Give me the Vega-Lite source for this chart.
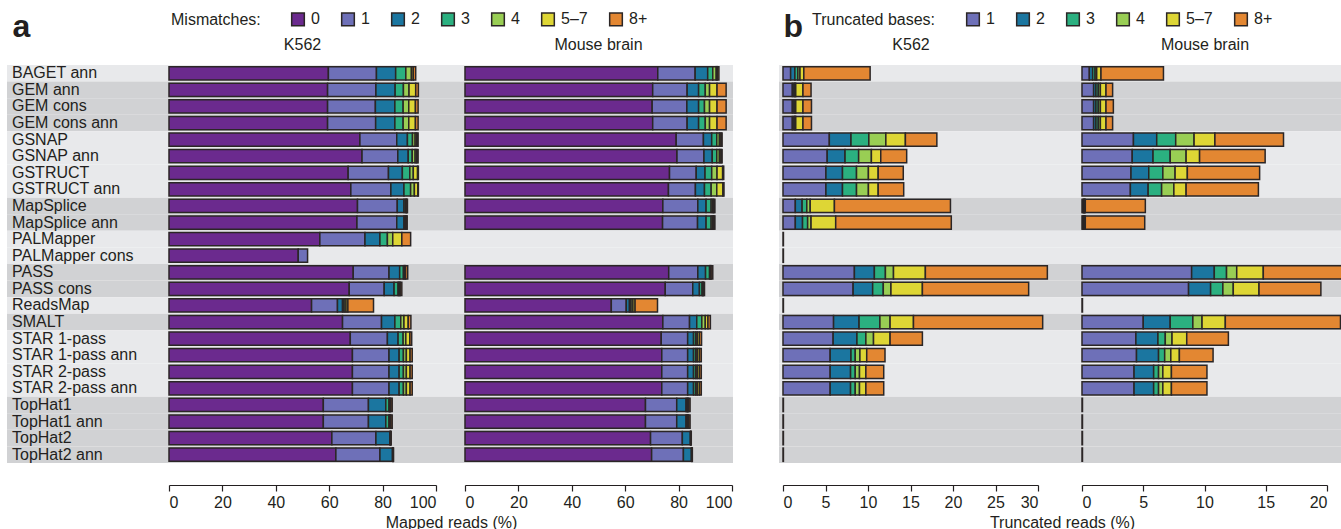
{
"$schema": "https://vega.github.io/schema/vega-lite/v6.json",
"padding": {"left": 7, "top": 10, "right": 0, "bottom": 0},
"background": "white",
"config": {
  "view": {"stroke": null},
  "font": "Liberation Sans",
  "title": {"fontSize": 16, "fontWeight": "normal", "color": "#231f20", "offset": 12},
  "axis": {"labelFontSize": 16, "labelColor": "#231f20", "titleFontSize": 16, "titleFontWeight": "normal", "titleColor": "#231f20", "domainColor": "#231f20", "tickColor": "#231f20", "grid": false, "tickSize": 6, "domainWidth": 1.2, "tickWidth": 1.2, "offset": 22, "labelPadding": 3, "titlePadding": 4},
  "legend": {"orient": "none", "direction": "horizontal", "titleOrient": "left", "titleFontSize": 16, "titleFontWeight": "normal", "titleColor": "#231f20", "labelFontSize": 16, "labelColor": "#231f20", "symbolType": "square", "symbolSize": 160, "symbolStrokeWidth": 1.5, "symbolStrokeColor": "#2b2626", "titlePadding": 29, "columnPadding": 18, "labelOffset": 5}
},
"datasets": {
  "bands": [
    {"m":"BAGET ann","g":"L"},{"m":"GEM ann","g":"D"},{"m":"GEM cons","g":"D"},{"m":"GEM cons ann","g":"D"},
    {"m":"GSNAP","g":"L"},{"m":"GSNAP ann","g":"L"},{"m":"GSTRUCT","g":"L"},{"m":"GSTRUCT ann","g":"L"},
    {"m":"MapSplice","g":"D"},{"m":"MapSplice ann","g":"D"},{"m":"PALMapper","g":"L"},{"m":"PALMapper cons","g":"L"},
    {"m":"PASS","g":"D"},{"m":"PASS cons","g":"D"},{"m":"ReadsMap","g":"L"},{"m":"SMALT","g":"D"},
    {"m":"STAR 1-pass","g":"L"},{"m":"STAR 1-pass ann","g":"L"},{"m":"STAR 2-pass","g":"L"},{"m":"STAR 2-pass ann","g":"L"},
    {"m":"TopHat1","g":"D"},{"m":"TopHat1 ann","g":"D"},{"m":"TopHat2","g":"D"},{"m":"TopHat2 ann","g":"D"}
  ],
  "a": [
    {"m":"BAGET ann","p":"K","0":59.7,"1":18.0,"2":7.2,"3":3.8,"4":2.1,"5–7":0.7,"8+":0.9},
    {"m":"GEM ann","p":"K","0":59.4,"1":18.1,"2":7.2,"3":3.1,"4":2.1,"5–7":2.5,"8+":1.0},
    {"m":"GEM cons","p":"K","0":59.4,"1":17.9,"2":7.3,"3":3.1,"4":2.1,"5–7":2.5,"8+":1.0},
    {"m":"GEM cons ann","p":"K","0":59.4,"1":18.0,"2":7.2,"3":3.1,"4":2.1,"5–7":2.5,"8+":1.0},
    {"m":"GSNAP","p":"K","0":71.5,"1":13.8,"2":4.0,"3":1.9,"4":1.0,"5–7":0.6,"8+":0.5},
    {"m":"GSNAP ann","p":"K","0":72.3,"1":13.4,"2":3.9,"3":1.5,"4":1.1,"5–7":0.6,"8+":0.5},
    {"m":"GSTRUCT","p":"K","0":67.1,"1":15.1,"2":5.2,"3":2.8,"4":1.3,"5–7":1.6,"8+":0.3},
    {"m":"GSTRUCT ann","p":"K","0":68.1,"1":15.0,"2":4.9,"3":2.5,"4":1.4,"5–7":1.3,"8+":0.2},
    {"m":"MapSplice","p":"K","0":70.6,"1":14.9,"2":2.5,"3":0.6,"4":0.3,"5–7":0.2,"8+":0.2},
    {"m":"MapSplice ann","p":"K","0":70.4,"1":14.9,"2":2.7,"3":0.5,"4":0.3,"5–7":0.2,"8+":0.2},
    {"m":"PALMapper","p":"K","0":56.5,"1":16.9,"2":5.6,"3":2.8,"4":2.0,"5–7":3.4,"8+":3.3},
    {"m":"PALMapper cons","p":"K","0":48.4,"1":3.5},
    {"m":"PASS","p":"K","0":69.0,"1":13.4,"2":4.0,"3":1.4,"4":0.5,"5–7":0.3,"8+":0.8},
    {"m":"PASS cons","p":"K","0":67.5,"1":13.1,"2":3.7,"3":1.5,"4":0.4,"5–7":0.4,"8+":0.6},
    {"m":"ReadsMap","p":"K","0":53.4,"1":9.7,"2":1.9,"3":0.6,"4":0.7,"5–7":0.7,"8+":9.6},
    {"m":"SMALT","p":"K","0":65.0,"1":14.6,"2":5.0,"3":2.2,"4":1.2,"5–7":1.6,"8+":1.0},
    {"m":"STAR 1-pass","p":"K","0":67.9,"1":13.9,"2":4.0,"3":1.9,"4":1.0,"5–7":1.5,"8+":0.7},
    {"m":"STAR 1-pass ann","p":"K","0":68.7,"1":13.7,"2":3.8,"3":1.6,"4":1.1,"5–7":1.4,"8+":0.8},
    {"m":"STAR 2-pass","p":"K","0":68.7,"1":13.7,"2":3.8,"3":1.6,"4":1.1,"5–7":1.4,"8+":0.8},
    {"m":"STAR 2-pass ann","p":"K","0":68.7,"1":13.7,"2":3.8,"3":1.6,"4":1.1,"5–7":1.4,"8+":0.8},
    {"m":"TopHat1","p":"K","0":57.8,"1":16.9,"2":6.5,"3":1.2,"4":0.3,"5–7":0.3,"8+":0.6},
    {"m":"TopHat1 ann","p":"K","0":57.8,"1":16.9,"2":6.5,"3":1.2,"4":0.3,"5–7":0.3,"8+":0.6},
    {"m":"TopHat2","p":"K","0":61.0,"1":16.5,"2":5.2,"3":0.2,"4":0.1,"5–7":0.1,"8+":0.1},
    {"m":"TopHat2 ann","p":"K","0":62.5,"1":16.5,"2":4.7,"3":0.1,"4":0.1,"5–7":0.1,"8+":0.1},
    {"m":"BAGET ann","p":"M","0":72.2,"1":14.0,"2":4.7,"3":1.9,"4":1.3,"5–7":0.4,"8+":0.6},
    {"m":"GEM ann","p":"M","0":70.3,"1":12.9,"2":4.3,"3":2.5,"4":1.6,"5–7":2.8,"8+":3.4},
    {"m":"GEM cons","p":"M","0":70.1,"1":13.0,"2":4.4,"3":2.2,"4":1.9,"5–7":2.8,"8+":3.4},
    {"m":"GEM cons ann","p":"M","0":70.3,"1":12.9,"2":4.3,"3":2.5,"4":1.6,"5–7":2.8,"8+":3.4},
    {"m":"GSNAP","p":"M","0":79.1,"1":10.2,"2":3.1,"3":1.9,"4":1.0,"5–7":0.6,"8+":0.4},
    {"m":"GSNAP ann","p":"M","0":79.4,"1":10.1,"2":3.1,"3":1.7,"4":1.0,"5–7":0.6,"8+":0.4},
    {"m":"GSTRUCT","p":"M","0":76.6,"1":10.0,"2":3.3,"3":2.5,"4":2.0,"5–7":2.1,"8+":0.4},
    {"m":"GSTRUCT ann","p":"M","0":76.2,"1":10.1,"2":3.4,"3":2.5,"4":2.1,"5–7":2.3,"8+":0.4},
    {"m":"MapSplice","p":"M","0":74.1,"1":13.1,"2":3.1,"3":1.9,"4":0.6,"5–7":0.4,"8+":0.4},
    {"m":"MapSplice ann","p":"M","0":74.0,"1":13.1,"2":3.2,"3":1.9,"4":0.6,"5–7":0.4,"8+":0.4},
    {"m":"PASS","p":"M","0":76.3,"1":10.9,"2":2.9,"3":1.5,"4":0.3,"5–7":0.3,"8+":0.6},
    {"m":"PASS cons","p":"M","0":75.0,"1":10.3,"2":2.5,"3":1.0,"4":0.3,"5–7":0.2,"8+":0.4},
    {"m":"ReadsMap","p":"M","0":54.8,"1":5.6,"2":1.2,"3":0.6,"4":0.7,"5–7":0.8,"8+":8.4},
    {"m":"SMALT","p":"M","0":74.1,"1":10.0,"2":2.7,"3":1.9,"4":1.3,"5–7":1.0,"8+":0.9},
    {"m":"STAR 1-pass","p":"M","0":73.5,"1":9.9,"2":2.2,"3":0.8,"4":0.6,"5–7":0.8,"8+":0.8},
    {"m":"STAR 1-pass ann","p":"M","0":73.7,"1":9.7,"2":2.2,"3":0.8,"4":0.6,"5–7":0.8,"8+":0.7},
    {"m":"STAR 2-pass","p":"M","0":73.7,"1":9.7,"2":2.2,"3":0.8,"4":0.6,"5–7":0.8,"8+":0.7},
    {"m":"STAR 2-pass ann","p":"M","0":73.7,"1":9.7,"2":2.2,"3":0.8,"4":0.6,"5–7":0.8,"8+":0.7},
    {"m":"TopHat1","p":"M","0":67.6,"1":11.7,"2":3.5,"3":0.4,"4":0.2,"5–7":0.3,"8+":0.6},
    {"m":"TopHat1 ann","p":"M","0":67.6,"1":11.7,"2":3.5,"3":0.4,"4":0.2,"5–7":0.3,"8+":0.6},
    {"m":"TopHat2","p":"M","0":69.5,"1":11.9,"2":3.0,"3":0.1,"4":0.1,"5–7":0.05,"8+":0.1},
    {"m":"TopHat2 ann","p":"M","0":69.9,"1":11.9,"2":3.0,"3":0.1,"4":0.1,"5–7":0.05,"8+":0.1}
  ],
  "b": [
    {"m":"BAGET ann","p":"K","1":0.9,"2":0.5,"3":0.35,"4":0.25,"5–7":0.45,"8+":7.8},
    {"m":"GEM ann","p":"K","1":1.1,"2":0.2,"3":0.1,"4":0.1,"5–7":0.85,"8+":0.95},
    {"m":"GEM cons","p":"K","1":1.1,"2":0.2,"3":0.1,"4":0.1,"5–7":0.85,"8+":1.0},
    {"m":"GEM cons ann","p":"K","1":1.1,"2":0.2,"3":0.1,"4":0.1,"5–7":0.85,"8+":1.0},
    {"m":"GSNAP","p":"K","1":5.45,"2":2.55,"3":2.1,"4":2.0,"5–7":2.3,"8+":3.7},
    {"m":"GSNAP ann","p":"K","1":5.2,"2":2.1,"3":1.6,"4":1.5,"5–7":1.1,"8+":3.05},
    {"m":"GSTRUCT","p":"K","1":5.05,"2":1.95,"3":1.65,"4":1.4,"5–7":1.15,"8+":2.95},
    {"m":"GSTRUCT ann","p":"K","1":5.05,"2":1.95,"3":1.65,"4":1.4,"5–7":1.15,"8+":3.0},
    {"m":"MapSplice","p":"K","1":1.45,"2":0.8,"3":0.55,"4":0.4,"5–7":2.85,"8+":13.65},
    {"m":"MapSplice ann","p":"K","1":1.45,"2":0.85,"3":0.6,"4":0.4,"5–7":2.9,"8+":13.6},
    {"m":"PALMapper","p":"K","1":0.05},
    {"m":"PALMapper cons","p":"K","1":0.05},
    {"m":"PASS","p":"K","1":8.4,"2":2.35,"3":1.3,"4":0.95,"5–7":3.75,"8+":14.35},
    {"m":"PASS cons","p":"K","1":8.25,"2":2.3,"3":1.25,"4":0.9,"5–7":3.7,"8+":12.5},
    {"m":"ReadsMap","p":"K","1":0.05},
    {"m":"SMALT","p":"K","1":5.95,"2":3.0,"3":2.45,"4":1.2,"5–7":2.75,"8+":15.2},
    {"m":"STAR 1-pass","p":"K","1":5.9,"2":2.8,"3":1.05,"4":0.9,"5–7":1.95,"8+":3.8},
    {"m":"STAR 1-pass ann","p":"K","1":5.55,"2":2.45,"3":0.5,"4":0.55,"5–7":0.8,"8+":2.15},
    {"m":"STAR 2-pass","p":"K","1":5.55,"2":2.4,"3":0.55,"4":0.5,"5–7":0.75,"8+":2.1},
    {"m":"STAR 2-pass ann","p":"K","1":5.55,"2":2.4,"3":0.55,"4":0.5,"5–7":0.75,"8+":2.1},
    {"m":"TopHat1","p":"K","1":0.05},
    {"m":"TopHat1 ann","p":"K","1":0.05},
    {"m":"TopHat2","p":"K","1":0.05},
    {"m":"TopHat2 ann","p":"K","1":0.05},
    {"m":"BAGET ann","p":"M","1":0.6,"2":0.27,"3":0.2,"4":0.13,"5–7":0.35,"8+":5.1},
    {"m":"GEM ann","p":"M","1":0.95,"2":0.19,"3":0.19,"4":0.17,"5–7":0.46,"8+":0.54},
    {"m":"GEM cons","p":"M","1":0.95,"2":0.19,"3":0.19,"4":0.17,"5–7":0.46,"8+":0.6},
    {"m":"GEM cons ann","p":"M","1":0.95,"2":0.19,"3":0.19,"4":0.17,"5–7":0.46,"8+":0.54},
    {"m":"GSNAP","p":"M","1":4.2,"2":1.9,"3":1.55,"4":1.5,"5–7":1.7,"8+":5.6},
    {"m":"GSNAP ann","p":"M","1":4.1,"2":1.7,"3":1.4,"4":1.3,"5–7":1.1,"8+":5.35},
    {"m":"GSTRUCT","p":"M","1":4.0,"2":1.45,"3":1.15,"4":1.0,"5–7":1.0,"8+":5.9},
    {"m":"GSTRUCT ann","p":"M","1":3.95,"2":1.45,"3":1.1,"4":1.0,"5–7":1.0,"8+":5.9},
    {"m":"MapSplice","p":"M","1":0.08,"2":0.06,"3":0.04,"4":0.04,"5–7":0.05,"8+":4.9},
    {"m":"MapSplice ann","p":"M","1":0.08,"2":0.06,"3":0.04,"4":0.04,"5–7":0.05,"8+":4.85},
    {"m":"PASS","p":"M","1":8.95,"2":1.85,"3":1.0,"4":0.83,"5–7":2.17,"8+":7.2},
    {"m":"PASS cons","p":"M","1":8.7,"2":1.8,"3":1.0,"4":0.85,"5–7":2.1,"8+":5.05},
    {"m":"ReadsMap","p":"M","1":0.04},
    {"m":"SMALT","p":"M","1":5.0,"2":2.2,"3":1.85,"4":0.75,"5–7":1.9,"8+":9.4},
    {"m":"STAR 1-pass","p":"M","1":4.4,"2":1.8,"3":0.6,"4":0.55,"5–7":1.2,"8+":3.4},
    {"m":"STAR 1-pass ann","p":"M","1":4.45,"2":1.8,"3":0.5,"4":0.5,"5–7":0.7,"8+":2.75},
    {"m":"STAR 2-pass","p":"M","1":4.25,"2":1.6,"3":0.4,"4":0.35,"5–7":0.7,"8+":2.9},
    {"m":"STAR 2-pass ann","p":"M","1":4.25,"2":1.6,"3":0.4,"4":0.35,"5–7":0.7,"8+":2.9},
    {"m":"TopHat1","p":"M","1":0.04},
    {"m":"TopHat1 ann","p":"M","1":0.04},
    {"m":"TopHat2","p":"M","1":0.04},
    {"m":"TopHat2 ann","p":"M","1":0.04}
  ]
},
"hconcat": [
  {
    "spacing": 0,
    "bounds": "flush",
    "hconcat": [
      {
        "width": 162, "height": 398,
        "layer": [
          {"data": {"name": "bands"}, "mark": {"type": "rect"},
           "encoding": {"y": {"field": "m", "type": "nominal", "scale": {"domain": ["BAGET ann","GEM ann","GEM cons","GEM cons ann","GSNAP","GSNAP ann","GSTRUCT","GSTRUCT ann","MapSplice","MapSplice ann","PALMapper","PALMapper cons","PASS","PASS cons","ReadsMap","SMALT","STAR 1-pass","STAR 1-pass ann","STAR 2-pass","STAR 2-pass ann","TopHat1","TopHat1 ann","TopHat2","TopHat2 ann"], "paddingInner": 0, "paddingOuter": 0}, "axis": null},
                        "fill": {"field": "g", "type": "nominal", "scale": {"domain": ["L","D"], "range": ["#e8e9eb","#d1d2d4"]}, "legend": null}}},
          {"data": {"name": "bands"}, "mark": {"type": "text", "align": "left", "baseline": "middle", "dx": 5, "fontSize": 16, "color": "#231f20"},
           "encoding": {"y": {"field": "m", "type": "nominal", "scale": {"domain": ["BAGET ann","GEM ann","GEM cons","GEM cons ann","GSNAP","GSNAP ann","GSTRUCT","GSTRUCT ann","MapSplice","MapSplice ann","PALMapper","PALMapper cons","PASS","PASS cons","ReadsMap","SMALT","STAR 1-pass","STAR 1-pass ann","STAR 2-pass","STAR 2-pass ann","TopHat1","TopHat1 ann","TopHat2","TopHat2 ann"], "paddingInner": 0, "paddingOuter": 0}, "axis": null},
                        "x": {"datum": 0, "type": "quantitative", "scale": {"domain": [0, 1]}, "axis": {"orient": "top", "labels": false, "ticks": false, "domain": false, "offset": 0, "title": "a", "titleFontSize": 32, "titleFontWeight": "bold", "titleX": 5, "titleY": -29, "titleAlign": "left", "titleBaseline": "alphabetic"}},
                        "text": {"field": "m"}}}
        ]
      },
      {
        "width": 291, "height": 398,
        "title": {"text": "K562", "dx": -12},
        "layer": [
          {"data": {"name": "bands"}, "mark": {"type": "rect"},
           "encoding": {"y": {"field": "m", "type": "nominal", "scale": {"domain": ["BAGET ann","GEM ann","GEM cons","GEM cons ann","GSNAP","GSNAP ann","GSTRUCT","GSTRUCT ann","MapSplice","MapSplice ann","PALMapper","PALMapper cons","PASS","PASS cons","ReadsMap","SMALT","STAR 1-pass","STAR 1-pass ann","STAR 2-pass","STAR 2-pass ann","TopHat1","TopHat1 ann","TopHat2","TopHat2 ann"], "paddingInner": 0, "paddingOuter": 0}, "axis": null},
                        "fill": {"field": "g", "type": "nominal", "scale": {"domain": ["L","D"], "range": ["#e8e9eb","#d1d2d4"]}, "legend": null}}},
          {"data": {"name": "a"},
           "transform": [{"filter": {"field": "p", "equal": "K"}}, {"fold": ["0","1","2","3","4","5–7","8+"], "as": ["cat","val"]}, {"filter": {"field": "val", "gt": 0}}],
           "mark": {"type": "bar", "height": {"band": 0.8}, "stroke": "#2b2626", "strokeWidth": 1.5},
           "encoding": {
             "y": {"field": "m", "type": "nominal", "scale": {"domain": ["BAGET ann","GEM ann","GEM cons","GEM cons ann","GSNAP","GSNAP ann","GSTRUCT","GSTRUCT ann","MapSplice","MapSplice ann","PALMapper","PALMapper cons","PASS","PASS cons","ReadsMap","SMALT","STAR 1-pass","STAR 1-pass ann","STAR 2-pass","STAR 2-pass ann","TopHat1","TopHat1 ann","TopHat2","TopHat2 ann"], "paddingInner": 0, "paddingOuter": 0}, "axis": null},
             "x": {"field": "val", "type": "quantitative", "stack": "zero", "scale": {"domain": [0, 100], "range": [0, 267], "nice": false}, "axis": {"values": [0,20,40,60,80,100], "title": "Mapped reads (%)", "titleX": 282}},
             "color": {"field": "cat", "type": "nominal", "scale": {"domain": ["0","1","2","3","4","5–7","8+"], "range": ["#6b2a8e","#6e70b8","#1b76a0","#2bb080","#99ce54","#ded635","#e38732"]}, "legend": {"title": "Mismatches:", "legendX": 164, "legendY": -54}},
             "order": {"field": "cat", "type": "ordinal"}
           }}
        ]
      },
      {
        "width": 273, "height": 398,
        "title": {"text": "Mouse brain", "dx": 2},
        "layer": [
          {"data": {"name": "bands"}, "mark": {"type": "rect"},
           "encoding": {"y": {"field": "m", "type": "nominal", "scale": {"domain": ["BAGET ann","GEM ann","GEM cons","GEM cons ann","GSNAP","GSNAP ann","GSTRUCT","GSTRUCT ann","MapSplice","MapSplice ann","PALMapper","PALMapper cons","PASS","PASS cons","ReadsMap","SMALT","STAR 1-pass","STAR 1-pass ann","STAR 2-pass","STAR 2-pass ann","TopHat1","TopHat1 ann","TopHat2","TopHat2 ann"], "paddingInner": 0, "paddingOuter": 0}, "axis": null},
                        "fill": {"field": "g", "type": "nominal", "scale": {"domain": ["L","D"], "range": ["#e8e9eb","#d1d2d4"]}, "legend": null}}},
          {"data": {"name": "a"},
           "transform": [{"filter": {"field": "p", "equal": "M"}}, {"fold": ["0","1","2","3","4","5–7","8+"], "as": ["cat","val"]}, {"filter": {"field": "val", "gt": 0}}],
           "mark": {"type": "bar", "height": {"band": 0.8}, "stroke": "#2b2626", "strokeWidth": 1.5},
           "encoding": {
             "y": {"field": "m", "type": "nominal", "scale": {"domain": ["BAGET ann","GEM ann","GEM cons","GEM cons ann","GSNAP","GSNAP ann","GSTRUCT","GSTRUCT ann","MapSplice","MapSplice ann","PALMapper","PALMapper cons","PASS","PASS cons","ReadsMap","SMALT","STAR 1-pass","STAR 1-pass ann","STAR 2-pass","STAR 2-pass ann","TopHat1","TopHat1 ann","TopHat2","TopHat2 ann"], "paddingInner": 0, "paddingOuter": 0}, "axis": null},
             "x": {"field": "val", "type": "quantitative", "stack": "zero", "scale": {"domain": [0, 100], "range": [5, 272], "nice": false}, "axis": {"values": [0,20,40,60,80,100], "title": null}},
             "color": {"field": "cat", "type": "nominal", "scale": {"domain": ["0","1","2","3","4","5–7","8+"], "range": ["#6b2a8e","#6e70b8","#1b76a0","#2bb080","#99ce54","#ded635","#e38732"]}, "legend": {"title": "Mismatches:", "legendX": 164, "legendY": -54}},
             "order": {"field": "cat", "type": "ordinal"}
           }}
        ]
      }
    ]
  },
  {
    "spacing": 0,
    "bounds": "flush",
    "hconcat": [
      {
        "width": 1, "height": 398,
        "layer": [
          {"data": {"name": "bands"}, "mark": {"type": "rect"},
           "encoding": {"y": {"field": "m", "type": "nominal", "scale": {"domain": ["BAGET ann","GEM ann","GEM cons","GEM cons ann","GSNAP","GSNAP ann","GSTRUCT","GSTRUCT ann","MapSplice","MapSplice ann","PALMapper","PALMapper cons","PASS","PASS cons","ReadsMap","SMALT","STAR 1-pass","STAR 1-pass ann","STAR 2-pass","STAR 2-pass ann","TopHat1","TopHat1 ann","TopHat2","TopHat2 ann"], "paddingInner": 0, "paddingOuter": 0}, "axis": null},
                        "fill": {"field": "g", "type": "nominal", "scale": {"domain": ["L","D"], "range": ["#e8e9eb","#d1d2d4"]}, "legend": null}}},
          {"data": {"values": [{"t": ""}]}, "mark": {"type": "text"},
           "encoding": {"x": {"datum": 0, "type": "quantitative", "scale": {"domain": [0, 1]}, "axis": {"orient": "top", "labels": false, "ticks": false, "domain": false, "offset": 0, "title": "b", "titleFontSize": 32, "titleFontWeight": "bold", "titleX": 4, "titleY": -29, "titleAlign": "left", "titleBaseline": "alphabetic"}},
                        "text": {"field": "t"}}}
        ]
      },
      {
        "width": 298, "height": 398,
        "title": {"text": "K562", "dx": -18},
        "layer": [
          {"data": {"name": "bands"}, "mark": {"type": "rect"},
           "encoding": {"y": {"field": "m", "type": "nominal", "scale": {"domain": ["BAGET ann","GEM ann","GEM cons","GEM cons ann","GSNAP","GSNAP ann","GSTRUCT","GSTRUCT ann","MapSplice","MapSplice ann","PALMapper","PALMapper cons","PASS","PASS cons","ReadsMap","SMALT","STAR 1-pass","STAR 1-pass ann","STAR 2-pass","STAR 2-pass ann","TopHat1","TopHat1 ann","TopHat2","TopHat2 ann"], "paddingInner": 0, "paddingOuter": 0}, "axis": null},
                        "fill": {"field": "g", "type": "nominal", "scale": {"domain": ["L","D"], "range": ["#e8e9eb","#d1d2d4"]}, "legend": null}}},
          {"data": {"name": "b"},
           "transform": [{"filter": {"field": "p", "equal": "K"}}, {"fold": ["1","2","3","4","5–7","8+"], "as": ["cat","val"]}, {"filter": {"field": "val", "gt": 0}}],
           "mark": {"type": "bar", "height": {"band": 0.8}, "stroke": "#2b2626", "strokeWidth": 1.5},
           "encoding": {
             "y": {"field": "m", "type": "nominal", "scale": {"domain": ["BAGET ann","GEM ann","GEM cons","GEM cons ann","GSNAP","GSNAP ann","GSTRUCT","GSTRUCT ann","MapSplice","MapSplice ann","PALMapper","PALMapper cons","PASS","PASS cons","ReadsMap","SMALT","STAR 1-pass","STAR 1-pass ann","STAR 2-pass","STAR 2-pass ann","TopHat1","TopHat1 ann","TopHat2","TopHat2 ann"], "paddingInner": 0, "paddingOuter": 0}, "axis": null},
             "x": {"field": "val", "type": "quantitative", "stack": "zero", "scale": {"domain": [0, 30], "range": [3, 258], "nice": false}, "axis": {"values": [0,5,10,15,20,25,30], "title": "Truncated reads (%)", "titleX": 282}},
             "color": {"field": "cat", "type": "nominal", "scale": {"domain": ["1","2","3","4","5–7","8+"], "range": ["#6e70b8","#1b76a0","#2bb080","#99ce54","#ded635","#e38732"]}, "legend": {"title": "Truncated bases:", "legendX": 33, "legendY": -54}},
             "order": {"field": "cat", "type": "ordinal"}
           }}
        ]
      },
      {
        "width": 264, "height": 398,
        "title": {"text": "Mouse brain", "dx": -5},
        "layer": [
          {"data": {"name": "bands"}, "mark": {"type": "rect"},
           "encoding": {"y": {"field": "m", "type": "nominal", "scale": {"domain": ["BAGET ann","GEM ann","GEM cons","GEM cons ann","GSNAP","GSNAP ann","GSTRUCT","GSTRUCT ann","MapSplice","MapSplice ann","PALMapper","PALMapper cons","PASS","PASS cons","ReadsMap","SMALT","STAR 1-pass","STAR 1-pass ann","STAR 2-pass","STAR 2-pass ann","TopHat1","TopHat1 ann","TopHat2","TopHat2 ann"], "paddingInner": 0, "paddingOuter": 0}, "axis": null},
                        "fill": {"field": "g", "type": "nominal", "scale": {"domain": ["L","D"], "range": ["#e8e9eb","#d1d2d4"]}, "legend": null}}},
          {"data": {"name": "b"},
           "transform": [{"filter": {"field": "p", "equal": "M"}}, {"fold": ["1","2","3","4","5–7","8+"], "as": ["cat","val"]}, {"filter": {"field": "val", "gt": 0}}],
           "mark": {"type": "bar", "height": {"band": 0.8}, "stroke": "#2b2626", "strokeWidth": 1.5, "clip": true},
           "encoding": {
             "y": {"field": "m", "type": "nominal", "scale": {"domain": ["BAGET ann","GEM ann","GEM cons","GEM cons ann","GSNAP","GSNAP ann","GSTRUCT","GSTRUCT ann","MapSplice","MapSplice ann","PALMapper","PALMapper cons","PASS","PASS cons","ReadsMap","SMALT","STAR 1-pass","STAR 1-pass ann","STAR 2-pass","STAR 2-pass ann","TopHat1","TopHat1 ann","TopHat2","TopHat2 ann"], "paddingInner": 0, "paddingOuter": 0}, "axis": null},
             "x": {"field": "val", "type": "quantitative", "stack": "zero", "scale": {"domain": [0, 20], "range": [4, 249], "nice": false}, "axis": {"values": [0,5,10,15,20], "title": null}},
             "color": {"field": "cat", "type": "nominal", "scale": {"domain": ["1","2","3","4","5–7","8+"], "range": ["#6e70b8","#1b76a0","#2bb080","#99ce54","#ded635","#e38732"]}, "legend": {"title": "Truncated bases:", "legendX": 33, "legendY": -54}},
             "order": {"field": "cat", "type": "ordinal"}
           }}
        ]
      }
    ]
  }
],
"spacing": 46,
"resolve": {"scale": {"color": "independent"}, "legend": {"color": "independent"}}
}
